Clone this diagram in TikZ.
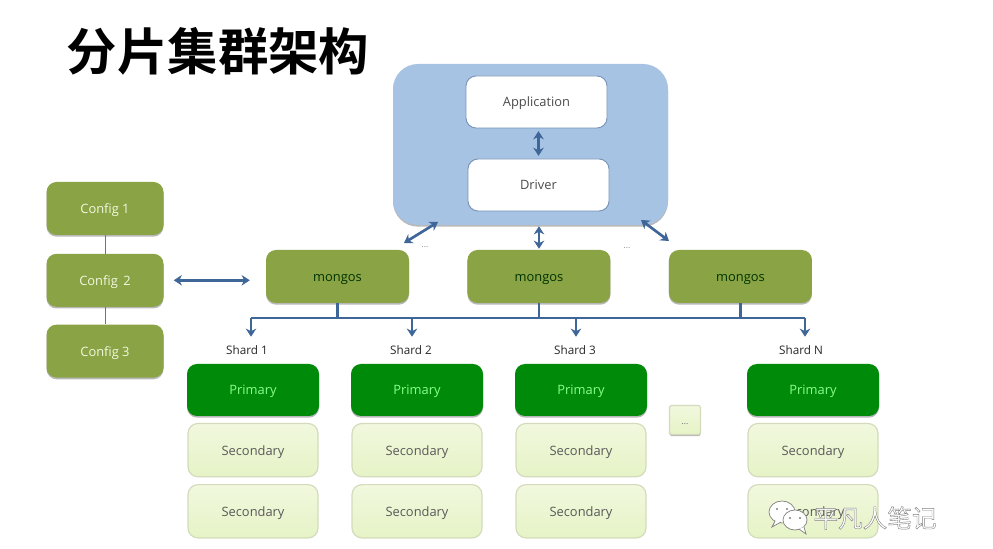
\documentclass[tikz,border=0pt]{standalone}
\usepackage{fontspec}
\setmainfont{Open Sans}
\newfontfamily\cjkbold[BoldFont=*]{Noto Sans CJK SC Bold}
\newfontfamily\cjkfont{Noto Sans CJK SC}
\usetikzlibrary{arrows.meta,positioning,shadows}
\definecolor{mgblue}{HTML}{A7C3E3}
\definecolor{mgline}{HTML}{3F6698}
\definecolor{mgolive}{HTML}{8AA345}
\definecolor{mggreen}{HTML}{008A0A}
\definecolor{mgpale}{HTML}{F1F8DE}
\definecolor{mgpaler}{HTML}{E6F3C6}
\definecolor{mgedge}{HTML}{D3DBBB}

\begin{document}
\begin{tikzpicture}[x=0.3mm, y=0.3mm,
    boxtext/.style={font=\fontsize{11}{13}\selectfont, text height=0.3cm, text depth=0cm},
    softshadow/.style={general shadow={shadow yshift=-0.05cm, fill=black, opacity=0.28}},
    driverbox/.style={boxtext, draw=mgline!70, line width=0.8pt, fill=white, rounded corners=0.3cm, minimum width=4.23cm, minimum height=1.56cm, text=black!70},
    olivebox/.style={boxtext, fill=mgolive, rounded corners=0.3cm, softshadow},
    config/.style={olivebox, minimum width=3.51cm, minimum height=1.59cm, text=mgpale},
    mongos/.style={olivebox, minimum width=4.29cm, minimum height=1.59cm, text=black!80!green},
    primary/.style={boxtext, fill=mggreen, rounded corners=0.3cm, softshadow, minimum width=3.96cm, minimum height=1.56cm, text=green!45!white},
    secondary/.style={boxtext, draw=mgedge, line width=1pt, top color=mgpale, bottom color=mgpaler, rounded corners=0.3cm, minimum width=3.9cm, minimum height=1.6cm, text=black!65},
    shard/.style={inner sep=1pt, text=black!85, font=\fontsize{10}{12}\selectfont},
    faint/.style={inner sep=0pt, text=black!50, font=\scriptsize},
    link/.style={draw=mgline, line width=0.08cm},
    twoway/.style={link, {Stealth[length=7pt,width=9pt]}-{Stealth[length=7pt,width=9pt]}},
    oneway/.style={link, -{Stealth[length=7pt,width=9pt]}}
  ]
    \useasboundingbox (0,0) rectangle (993,549);

    \node[font=\cjkbold\fontsize{43}{43}\selectfont, inner sep=0pt] (heading) at (218,498) {分片集群架构};

    \node[fill=mgblue, rounded corners=0.75cm, softshadow, minimum width=8.25cm, minimum height=4.83cm] (client) at (530.5,404.5) {};
    \node[driverbox] (application) at (536.5,447) {Application};
    \node[driverbox] (driver) at (538.5,364) {Driver};

    \node[config] (configA) at (105,340.5) {Config 1};
    \node[config, below=0.55cm of configA] (configB) {Config\, 2};
    \node[config, below=0.52cm of configB] (configC) {Config 3};

    \node[mongos] (mongosA) at (337.5,272.5) {mongos};
    \node[mongos, right=1.74cm of mongosA] (mongosB) {mongos};
    \node[mongos, right=1.74cm of mongosB] (mongosC) {mongos};
    \node[faint] (gapA) at (425,302) {...};
    \node[faint] (gapB) at (627,301) {...};

    \node[primary] (primaryA) at (253,159) {Primary};
    \node[secondary, below=0.2cm of primaryA] (secondaryA) {Secondary};
    \node[secondary, below=0.2cm of secondaryA] (tertiaryA) {Secondary};
    \node[primary] (primaryB) at (417,159) {Primary};
    \node[secondary, below=0.2cm of primaryB] (secondaryB) {Secondary};
    \node[secondary, below=0.2cm of secondaryB] (tertiaryB) {Secondary};
    \node[primary] (primaryC) at (581,159) {Primary};
    \node[secondary, below=0.2cm of primaryC] (secondaryC) {Secondary};
    \node[secondary, below=0.2cm of secondaryC] (tertiaryC) {Secondary};
    \node[primary] (primaryD) at (813,159) {Primary};
    \node[secondary, below=0.2cm of primaryD] (secondaryD) {Secondary};
    \node[secondary, below=0.2cm of secondaryD] (tertiaryD) {Secondary};

    \node[secondary, rounded corners=0.05cm, minimum width=0.93cm, minimum height=0.87cm, inner sep=0pt, font=\scriptsize, softshadow] (more) at (685,129) {...};

    \node[shard] (shardA) at (247,199) {Shard 1};
    \node[shard] (shardB) at (411,199) {Shard 2};
    \node[shard] (shardC) at (575,199) {Shard 3};
    \node[shard] (shardD) at (801,199) {Shard N};

    \coordinate (busA) at (251,231);
    \coordinate (busB) at (412,231);
    \coordinate (busC) at (576,231);
    \coordinate (busD) at (805,231);
    \coordinate (clientL) at (438,327);
    \coordinate (clientR) at (641,329);
    \coordinate (mongosL) at (404,306);
    \coordinate (mongosR) at (669,308);

    \draw[black!55, line width=0.8pt] (configA) -- (configB);
    \draw[black!55, line width=0.8pt] (configB) -- (configC);

    \draw[twoway, shorten <=0.08cm, shorten >=0.08cm] (driver.north) -- (driver.north |- application.south);
    \draw[twoway, shorten <=0.03cm, shorten >=0.03cm] (mongosB.north) -- (mongosB.north |- client.south);
    \draw[twoway] (clientL) -- (mongosL);
    \draw[twoway] (clientR) -- (mongosR);
    \draw[twoway, shorten <=0.3cm, shorten >=0.48cm] (configB.east) -- (configB.east -| mongosA.west);

    \draw[link] (busA) -- (busD);
    \draw[link] (mongosA.south) -- (mongosA.south |- busA);
    \draw[link] (mongosB.south) -- (mongosB.south |- busA);
    \draw[link] (mongosC.south) -- (mongosC.south |- busA);
    \draw[oneway, shorten >=0.22cm] (busA) -- (busA |- shardA.north);
    \draw[oneway, shorten >=0.22cm] (busB) -- (busB |- shardB.north);
    \draw[oneway, shorten >=0.22cm] (busC) -- (busC |- shardC.north);
    \draw[oneway, shorten >=0.22cm] (busD) -- (busD |- shardD.north);

    % chat bubbles and name over the last box
    \draw[black!50, fill=white, line width=0.6pt] (782,37) ellipse (13 and 11);
    \draw[black!50, fill=white, line width=0.6pt] (775,28) -- (772,22) -- (781,27);
    \fill[black!50] (777,40) circle (1.1) (787,40) circle (1.1);
    \draw[black!50, fill=white, line width=0.6pt] (795,29) ellipse (12 and 10);
    \draw[black!50, fill=white, line width=0.6pt] (799,20) -- (806,15) -- (804,22);
    \fill[black!50] (790,31) circle (1.1) (800,31) circle (1.1);
    \node[inner sep=0pt, text=white, font=\cjkfont\fontsize{21}{21}\selectfont] (mark) at (875,31) {\special{pdf:code 0.5 G 0.35 w 2 Tr}平凡人笔记\special{pdf:code 0 Tr}};
\end{tikzpicture}
\end{document}
